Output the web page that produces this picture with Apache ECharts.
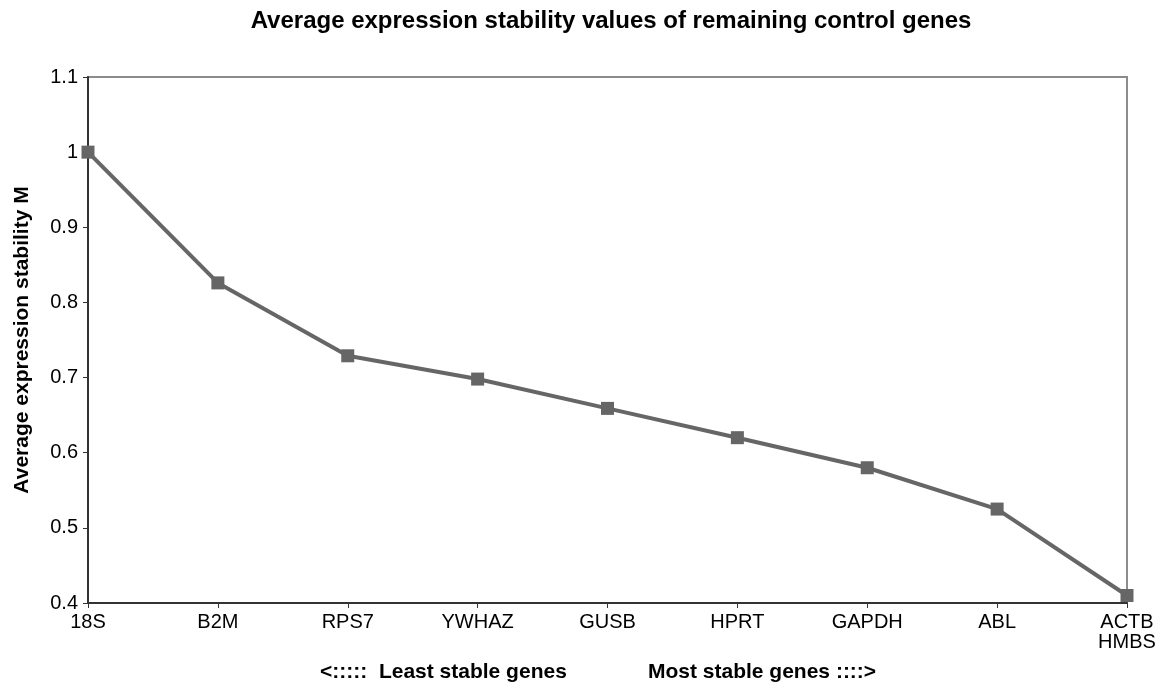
<!DOCTYPE html>
<html>
<head>
<meta charset="utf-8">
<script src="https://cdn.jsdelivr.net/npm/echarts@6/dist/echarts.min.js"></script>
<style>
    html, body { margin: 0; padding: 0; background: #fff; }
    #chart { width: 1164px; height: 685px; }
</style>
</head>
<body>
<div id="chart"></div>
<script>
    var genes = ['18S', 'B2M', 'RPS7', 'YWHAZ', 'GUSB', 'HPRT', 'GAPDH', 'ABL', 'ACTB\nHMBS'];
    var stabilityM = [1.0, 0.826, 0.729, 0.698, 0.659, 0.62, 0.58, 0.525, 0.41];
    var yTicks = { min: 0.4, max: 1.1, interval: 0.1 };

    var chart = echarts.init(document.getElementById('chart'));
    var font = 'Liberation Sans, Arial, sans-serif';

    var option = {
        animation: false,
        title: [
            {
                text: 'Average expression stability values of remaining control genes',
                left: 606,
                top: 4,
                textAlign: 'center',
                textStyle: { fontFamily: font, fontSize: 24, fontWeight: 'bold', color: '#000' }
            },
            {
                text: '<:::::  Least stable genes',
                left: 315,
                top: 657,
                textStyle: { fontFamily: font, fontSize: 21, fontWeight: 'bold', color: '#000' }
            },
            {
                text: 'Most stable genes ::::>',
                left: 643,
                top: 657,
                textStyle: { fontFamily: font, fontSize: 21, fontWeight: 'bold', color: '#000' }
            }
        ],
        grid: {
            left: 88,
            right: 37,
            top: 77,
            bottom: 82,
            show: true,
            borderColor: '#8c8c8c',
            borderWidth: 2
        },
        xAxis: {
            type: 'category',
            boundaryGap: false,
            data: genes,
            axisLine: { lineStyle: { color: '#333', width: 2 } },
            axisTick: { show: true, length: 5, lineStyle: { color: '#333' } },
            axisLabel: { fontFamily: font, fontSize: 20, color: '#000', margin: 9, lineHeight: 20 },
            splitLine: { show: false }
        },
        yAxis: {
            type: 'value',
            min: yTicks.min,
            max: yTicks.max,
            interval: yTicks.interval,
            name: 'Average expression stability M',
            nameLocation: 'middle',
            nameGap: 55,
            nameTextStyle: { fontFamily: font, fontSize: 21, fontWeight: 'bold', color: '#000' },
            axisLine: { show: true, lineStyle: { color: '#333', width: 2 } },
            axisTick: { show: true, length: 5, lineStyle: { color: '#333' } },
            axisLabel: {
                fontFamily: font, fontSize: 20, color: '#000', margin: 10,
                formatter: function (v) { return String(Math.round(v * 10) / 10); }
            },
            splitLine: { show: false }
        },
        series: [
            {
                type: 'line',
                data: stabilityM,
                symbol: 'rect',
                symbolSize: 13,
                lineStyle: { color: '#666', width: 4 },
                itemStyle: { color: '#666' }
            }
        ]
    };
    chart.setOption(option);
</script>
</body>
</html>
